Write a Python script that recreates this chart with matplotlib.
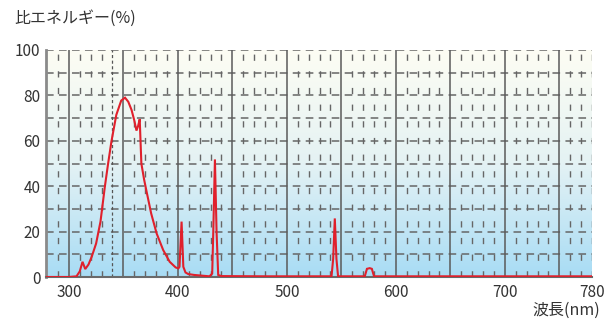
import matplotlib
matplotlib.use("Agg")
import matplotlib.pyplot as plt
import numpy as np
from matplotlib.colors import LinearSegmentedColormap

plt.rcParams['font.family'] = ['Noto Sans CJK JP', 'DejaVu Sans']

wavelength = [279, 300, 307, 310, 312.5, 315, 318, 321, 325, 329, 333, 336, 339, 343.5, 348, 351.5,
              354.5, 357.5, 360, 362, 363.5, 365, 366.5, 369, 371, 375.5, 380.5, 386.5, 392.5, 398, 400.5,
              401.5, 403.4, 405, 407, 409.5, 415, 422, 429, 431.5, 432.5, 434, 435.5, 437, 440, 480, 520,
              541, 542.5, 544, 545.5, 547, 560, 571.5, 573.5, 576, 578, 580, 620, 700, 780]
energy = [0.0, 0.0, 0.3, 2.5, 6.7, 3.5, 5.5, 9.0, 14.8, 24.4, 39.8, 50.0, 59.6, 71.4, 77.7, 79.0,
          77.2, 73.6, 69.0, 64.5, 66.5, 69.5, 50.0, 43.0, 38.3, 28.0, 19.2, 11.9, 6.7, 4.2, 3.8,
          4.5, 24.4, 4.5, 2.0, 1.3, 0.9, 0.6, 0.3, 1.5, 20.0, 51.8, 20.0, 0.9, 0.4, 0.3, 0.3,
          0.3, 8.0, 25.8, 8.0, 0.3, 0.3, 0.3, 3.6, 3.9, 3.6, 0.3, 0.3, 0.3, 0.3]

x_ticks = [300, 400, 500, 600, 700, 780]
y_ticks = [0, 20, 40, 60, 80, 100]
ylabel_text = "比エネルギー(%)"
xlabel_text = "波長(nm)"

fig = plt.figure(figsize=(6.07, 3.2), dpi=100)
ax = fig.add_axes([46/607, 43/320, (592-46)/607, (277-50)/320])
ax.set_xlim(279, 780)
ax.set_ylim(0, 100)

# background gradient (cream at top, light blue at bottom)
cmap = LinearSegmentedColormap.from_list("bg", ["#fdfdf3", "#e4f2f4", "#a8dcf5"])
grad = np.linspace(0, 1, 256).reshape(-1, 1)
ax.imshow(grad, aspect='auto', cmap=cmap, extent=[0, 1, 0, 1], origin='upper',
          transform=ax.transAxes, zorder=0)

gc = "#666666"
# horizontal dashed grid
for v in range(10, 101, 10):
    ax.axhline(v, color=gc, lw=1.1, ls=(0, (5, 3.5)), zorder=1)
# vertical minor dashed
for w in range(290, 781, 10):
    if w % 50 == 0 and w != 780:
        continue
    if w == 340:
        ax.axvline(w, color="#555555", lw=0.9, ls=(0, (2.5, 2)), zorder=1)
    else:
        ax.axvline(w, color=gc, lw=1.0, ls=(0, (4.5, 7.5)), zorder=1)
# vertical major solid
for w in range(300, 751, 50):
    ax.axvline(w, color="#5a5a5a", lw=1.1, zorder=1)

ax.plot(wavelength, energy, color="#e0202c", lw=1.5, zorder=3, solid_joinstyle='miter')

for s in ['top', 'right']:
    ax.spines[s].set_visible(False)
ax.spines['left'].set_color("#8a8a8a")
ax.spines['left'].set_linewidth(2)
ax.spines['bottom'].set_color("#6a6a6a")
ax.spines['bottom'].set_linewidth(1.5)

ax.set_xticks(x_ticks)
ax.set_xticklabels([str(t) for t in x_ticks])
ax.set_yticks(y_ticks)
ax.set_yticklabels([str(t) for t in y_ticks])
ax.tick_params(length=0, labelsize=11, colors="#333333", pad=4)
ax.tick_params(axis='x', pad=5)

fig.text(14/607, 1 - 18/320, ylabel_text, fontsize=11.5, color="#333333", va='center', ha='left')
fig.text(600/607, 1 - 310/320, xlabel_text, fontsize=11.5, color="#333333", va='center', ha='right')

fig.savefig("out.png", dpi=100)
